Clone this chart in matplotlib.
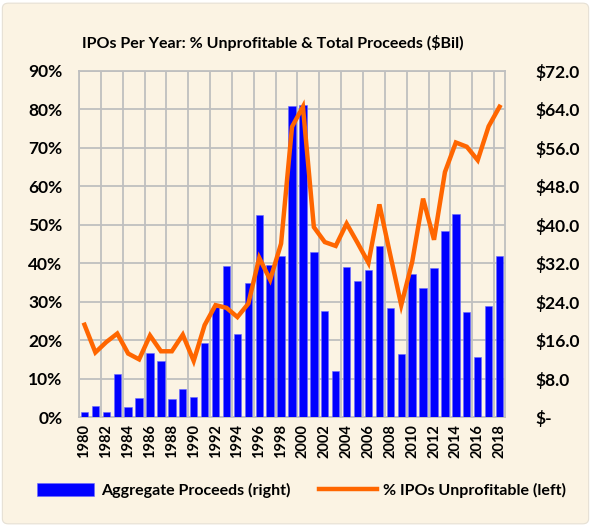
import numpy as np
import matplotlib.pyplot as plt
from matplotlib.patches import FancyBboxPatch
from matplotlib.ticker import FuncFormatter

years = list(range(1980, 2019))

# aggregate IPO proceeds, $ billions (right axis)
proceeds = [1.0, 2.2, 1.0, 8.9, 2.0, 4.0, 13.4, 11.6, 3.8, 5.8,
            4.2, 15.3, 22.9, 31.4, 17.2, 27.9, 42.1, 31.6, 33.6, 64.7,
            64.9, 34.3, 22.0, 9.5, 31.2, 28.2, 30.5, 35.6, 22.7, 13.1,
            29.7, 26.9, 31.1, 38.7, 42.2, 21.9, 12.5, 23.0, 33.4]

# share of IPOs with negative earnings, % (left axis)
pct_unprofitable = [24.0, 16.8, 19.5, 21.7, 16.5, 15.0, 21.2, 17.1, 17.1, 21.4,
                    14.6, 23.9, 29.1, 28.4, 26.0, 29.5, 41.4, 35.7, 45.1, 75.5,
                    80.7, 49.4, 45.5, 44.5, 50.3, 45.3, 40.1, 55.3, 42.1, 29.1,
                    40.3, 56.8, 46.1, 63.7, 71.4, 70.3, 66.8, 75.6, 80.7]

title = "IPOs Per Year: % Unprofitable & Total Proceeds ($Bil)"
bg = "#FBF3E3"
grid_col = "#BFBFBF"

plt.rcParams['font.family'] = ['Lato', 'DejaVu Sans']
plt.rcParams['font.weight'] = 'bold'

fig = plt.figure(figsize=(5.91, 5.27), dpi=100, facecolor="white")
fig.patches.append(FancyBboxPatch((0.004, 0.006), 0.992, 0.988,
                                  boxstyle="round,pad=0,rounding_size=0.01",
                                  transform=fig.transFigure, facecolor=bg,
                                  edgecolor="#E6E0D4", linewidth=0.8, zorder=-10))

ax = fig.add_axes([0.1337, 0.2087, 0.7208, 0.6566])
ax.set_facecolor(bg)
x = np.arange(len(years))

# bars on the primary axes, ticks moved to the right side
ax.bar(x, proceeds, width=0.68, color="#0000FF", edgecolor="#6A6AFF",
       linewidth=0.4, zorder=3, label="Aggregate Proceeds (right)")
ax.set_ylim(0, 72)
ax.set_yticks(np.arange(0, 73, 8))
ax.yaxis.set_major_formatter(FuncFormatter(lambda v, p: "$-" if v == 0 else f"${v:.1f}"))
ax.set_xlim(-0.5, len(years) - 0.5)
ax.set_xticks(x[::2])
ax.set_xticklabels([str(y) for y in years[::2]], rotation=90, fontsize=10.5)
ax.set_xticks(np.arange(-0.5, len(years), 2), minor=True)
ax.grid(axis="y", color=grid_col, linewidth=1.3, zorder=0)
ax.grid(axis="x", which="minor", color=grid_col, linewidth=1.3, zorder=0)
ax.set_axisbelow(True)
for s in ax.spines.values():
    s.set_color(grid_col)
    s.set_linewidth(1.3)

ax2 = ax.twinx()
ax2.plot(x, pct_unprofitable, color="#FF6600", linewidth=3.2, zorder=4,
         solid_joinstyle="miter", label="% IPOs Unprofitable (left)")
ax2.set_ylim(0, 90)
ax2.set_yticks(np.arange(0, 91, 10))
ax2.yaxis.set_major_formatter(FuncFormatter(lambda v, p: f"{v:.0f}%"))
ax2.yaxis.tick_left()
ax2.tick_params(axis="y", length=0, labelsize=12.5, pad=12)
for s in ax2.spines.values():
    s.set_visible(False)

ax.yaxis.tick_right()
ax.tick_params(axis="both", which="both", length=0)
ax.tick_params(axis="y", labelsize=12.5, pad=22)
ax.tick_params(axis="x", pad=5)

fig.text(0.461, 0.918, title, ha="center", va="center", fontsize=11.5, fontweight="bold")

h1, l1 = ax.get_legend_handles_labels()
h2, l2 = ax2.get_legend_handles_labels()
fig.legend(h1 + h2, l1 + l2, loc="center", bbox_to_anchor=(0.51, 0.07), ncol=2,
           frameon=False, fontsize=11.5, handlelength=3.6, handleheight=0.9,
           columnspacing=1.8, handletextpad=0.4)

fig.savefig("out.png", dpi=100, facecolor="white")
